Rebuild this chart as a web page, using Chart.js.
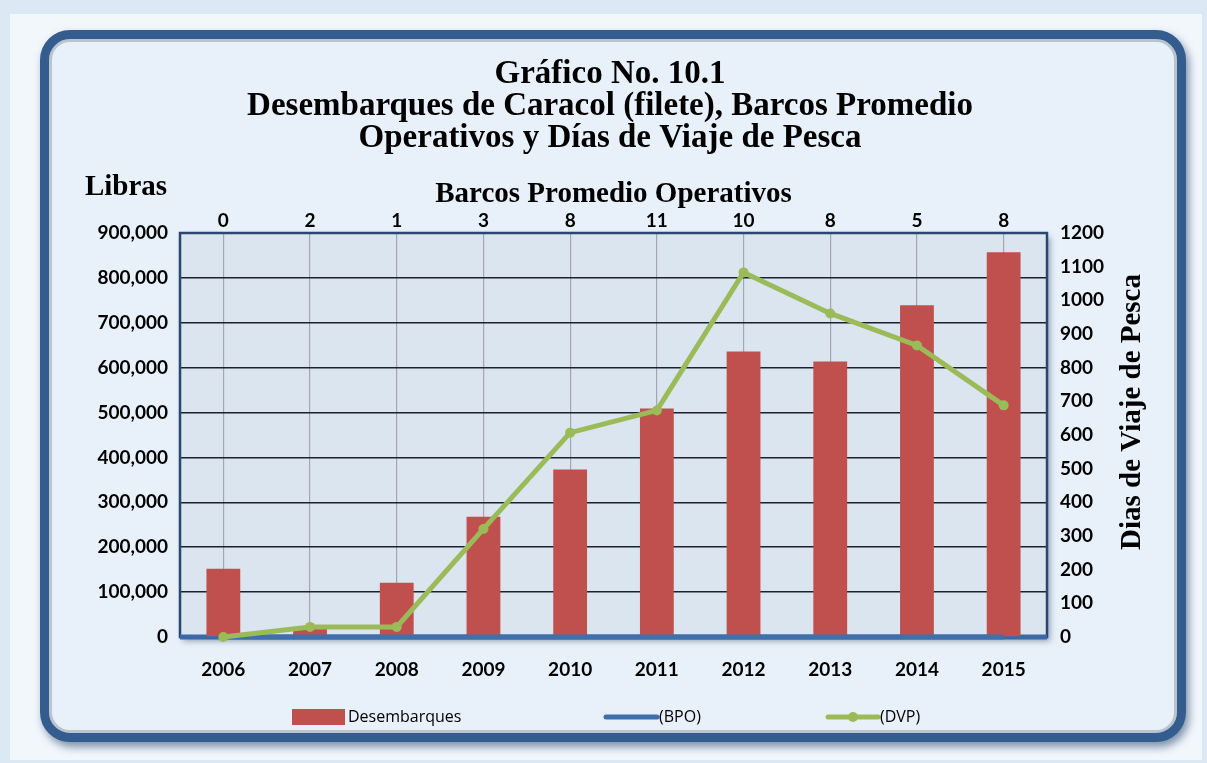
<!DOCTYPE html>
<html>
<head>
<meta charset="utf-8">
<script src="https://cdn.jsdelivr.net/npm/chart.js@4.4.1/dist/chart.umd.min.js"></script>
<style>
  html, body { margin: 0; padding: 0; }
  body { width: 1207px; height: 763px; background: #dce8f4; position: relative; overflow: hidden; }
  #glow { position: absolute; left: 10px; top: 14px; width: 1192px; height: 746px; background: #f2f7fc; }
  #frame {
    position: absolute; left: 40px; top: 30px; width: 1128px; height: 694px;
    border: 9px solid #345c8e; border-radius: 30px; background: #e8f1fa;
    box-shadow: 3px 5px 8px rgba(30,60,100,0.55), inset 0 0 0 3px #b9c4cf;
  }
  #chart { position: absolute; left: 0; top: 0; }
</style>
</head>
<body>
<div id="glow"></div>
<div id="frame"></div>
<canvas id="chart" width="1207" height="763"></canvas>
<script>
document.addEventListener('DOMContentLoaded', () => {

    // --- Data ---
    const years = ['2006', '2007', '2008', '2009', '2010', '2011', '2012', '2013', '2014', '2015'];
    const desembarques = [152000, 20000, 121000, 268000, 373000, 509000, 636000, 614000, 739000, 857000];
    const bpo = [0, 2, 1, 3, 8, 11, 10, 8, 5, 8];
    const dvp = [0, 30, 30, 321, 607, 673, 1083, 961, 866, 688];
    const bpoLabels = bpo.map(v => String(v));

    const tickFont = { family: 'Lato', weight: 'bold', size: 19 };
    const serif = 'Liberation Serif';

    // plot background + border
    const plotArea = {
        id: 'plotArea',
        beforeDraw(chart) {
            const { ctx, chartArea: a } = chart;
            ctx.save();
            ctx.shadowColor = 'rgba(40,60,90,0.45)';
            ctx.shadowBlur = 6;
            ctx.shadowOffsetX = 3;
            ctx.shadowOffsetY = 4;
            ctx.fillStyle = '#dbe5f0';
            ctx.fillRect(a.left, a.top, a.right - a.left, a.bottom - a.top);
            ctx.restore();
        },
        beforeDatasetsDraw(chart) {
            const { ctx, chartArea: a } = chart;
            ctx.save();
            ctx.strokeStyle = '#2b4670';
            ctx.lineWidth = 2.5;
            ctx.strokeRect(a.left, a.top, a.right - a.left, a.bottom - a.top);
            // thick blue base line
            ctx.strokeStyle = '#3a6aa6';
            ctx.lineWidth = 5;
            ctx.beginPath();
            ctx.moveTo(a.left, a.bottom);
            ctx.lineTo(a.right, a.bottom);
            ctx.stroke();
            ctx.restore();
        }
    };

    // extra texts and legend
    const extras = {
        id: 'extras',
        afterDraw(chart) {
            const ctx = chart.ctx;
            ctx.save();
            ctx.fillStyle = '#000';
            ctx.font = `bold 29px "${serif}"`;
            ctx.textAlign = 'center';
            ctx.textBaseline = 'middle';
            ctx.fillText('Libras', 126, 188);

            ctx.translate(1133, 412);
            ctx.rotate(-Math.PI / 2);
            ctx.font = `bold 29px "${serif}"`;
            ctx.fillText('Dias de Viaje de Pesca', 0, 0);
            ctx.restore();

            // legend
            const ds = chart.data.datasets;
            const y = 717;
            ctx.save();
            ctx.font = '16px "Open Sans"';
            ctx.textBaseline = 'middle';
            ctx.textAlign = 'left';
            ctx.fillStyle = ds[0].backgroundColor;
            ctx.fillRect(292, y - 8, 53, 16);
            ctx.fillStyle = '#000';
            ctx.fillText(ds[0].label, 348, y);

            ctx.strokeStyle = ds[1].borderColor;
            ctx.lineWidth = 5;
            ctx.lineCap = 'round';
            ctx.beginPath(); ctx.moveTo(606, y); ctx.lineTo(657, y); ctx.stroke();
            ctx.fillText(ds[1].label, 659, y);

            ctx.strokeStyle = ds[2].borderColor;
            ctx.beginPath(); ctx.moveTo(828, y); ctx.lineTo(878, y); ctx.stroke();
            ctx.fillStyle = ds[2].borderColor;
            ctx.beginPath(); ctx.arc(853, y, 5, 0, Math.PI * 2); ctx.fill();
            ctx.fillStyle = '#000';
            ctx.fillText(ds[2].label, 880, y);
            ctx.restore();
        }
    };

    const config = {
        type: 'bar',
        data: {
            labels: years,
            datasets: [
                {
                    label: 'Desembarques',
                    data: desembarques,
                    yAxisID: 'y',
                    backgroundColor: '#c0504d',
                    barPercentage: 0.5,
                    categoryPercentage: 0.78,
                    order: 3
                },
                {
                    type: 'line',
                    label: '(BPO)',
                    data: bpo,
                    yAxisID: 'y',
                    borderColor: '#3f70aa',
                    borderWidth: 5,
                    pointRadius: 0,
                    clip: false,
                    order: 1
                },
                {
                    type: 'line',
                    label: '(DVP)',
                    data: dvp,
                    yAxisID: 'y1',
                    borderColor: '#9bbb59',
                    backgroundColor: '#9bbb59',
                    borderWidth: 5,
                    pointRadius: 5,
                    pointBackgroundColor: '#9bbb59',
                    pointBorderWidth: 0,
                    clip: false,
                    order: 0
                }
            ]
        },
        options: {
            responsive: false,
            animation: false,
            layout: { padding: { left: 60, right: 47, top: 58, bottom: 73 } },
            plugins: {
                legend: { display: false },
                tooltip: { enabled: false },
                title: {
                    display: true,
                    text: ['Gráfico No. 10.1', 'Desembarques de Caracol (filete), Barcos Promedio', 'Operativos y Días de Viaje de Pesca'],
                    color: '#000',
                    font: { family: serif, weight: 'bold', size: 33, lineHeight: '32px' },
                    padding: 0
                }
            },
            scales: {
                x: {
                    position: 'bottom',
                    z: 1,
                    grid: { offset: false, color: 'rgba(150,158,168,0.85)', lineWidth: 1.2, drawTicks: false },
                    border: { display: false },
                    ticks: { color: '#000', font: tickFont, padding: 21 },
                    afterFit(s) { s.height = 53; }
                },
                x2: {
                    type: 'category',
                    position: 'top',
                    labels: bpoLabels,
                    grid: { display: false, drawTicks: false },
                    border: { display: false },
                    ticks: { color: '#000', font: tickFont, padding: 1 },
                    title: {
                        display: true,
                        text: 'Barcos Promedio Operativos',
                        color: '#000',
                        font: { family: serif, weight: 'bold', size: 29 },
                        padding: { top: 23, bottom: 0 }
                    },
                    afterFit(s) { s.height = 79; }
                },
                y: {
                    position: 'left',
                    min: 0,
                    max: 900000,
                    grid: { color: '#1b2130', lineWidth: 1.5, drawTicks: false },
                    border: { display: false },
                    ticks: {
                        stepSize: 100000,
                        color: '#000',
                        font: tickFont,
                        padding: 12,
                        callback: v => v.toLocaleString('en-US')
                    },
                    afterFit(s) { s.width = 120; }
                },
                y1: {
                    position: 'right',
                    min: 0,
                    max: 1200,
                    grid: { display: false, drawTicks: false },
                    border: { display: false },
                    ticks: { stepSize: 100, color: '#000', font: tickFont, padding: 13, callback: v => String(v) },
                    afterFit(s) { s.width = 113; }
                }
            }
        },
        plugins: [plotArea, extras]
    };

    new Chart(document.getElementById('chart'), config);
});
</script>
</body>
</html>
